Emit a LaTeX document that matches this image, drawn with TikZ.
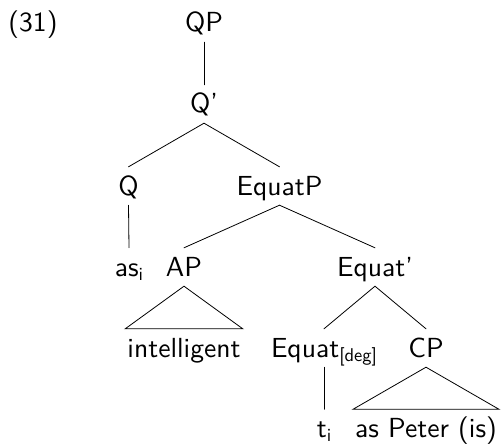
\documentclass[tikz,border=0pt]{standalone}
\usepackage{fontspec}
\usetikzlibrary{calc}
\newfontfamily\lmsx{lmsans10-regular.otf}[Ligatures=TeX]
\newcommand\sbx[1]{\raisebox{-4pt}{\fontsize{18.5}{20}\selectfont #1}}
\begin{document}
\begin{tikzpicture}[x=1pt,y=-1pt,
  lbl/.style={anchor=base, font=\lmsx\fontsize{27.6}{33}\selectfont,
              text height=19pt, text depth=1pt, inner ysep=9pt, inner xsep=2pt},
  edge/.style={line width=0.8pt, line cap=round}]
\useasboundingbox (0,0) rectangle (501,444);

\node[lbl] (ex)  at (33,32)   {(31)};
\node[lbl] (qp)  at (204,32)  {QP};
\node[lbl] (qb)  at (204,113) {Q'};
\node[lbl] (q)   at (128.5,195) {Q};
\node[lbl] (ep)  at (279.5,195) {EquatP};
\node[lbl] (as)  at (129,276) {as\sbx{i}};
\node[lbl] (ap)  at (184,276) {AP};
\node[lbl] (eb)  at (375,276) {Equat'};
\node[lbl] (int) at (184,357) {intelligent};
\node[lbl] (eq)  at (324,357) {Equat\sbx{[deg]}};
\node[lbl] (cp)  at (426,357) {CP};
\node[lbl] (t)   at (324,437.5) {t\sbx{i}};
\node[lbl] (ape) at (426,437.5) {as Peter (is)};

\draw[edge] (qp.south) -- (qb.north);
\draw[edge] (qb.south) -- (q.north);
\draw[edge] (qb.south) -- (ep.north);
\draw[edge] (q.south) -- (as.north);
\draw[edge] (ep.south) -- (ap.north);
\draw[edge] (ep.south) -- (eb.north);
\draw[edge] (ap.south) -- (int.north west) -- (int.north east) -- cycle;
\draw[edge] (eb.south) -- (eq.north);
\draw[edge] (eb.south) -- (cp.north);
\draw[edge] (eq.south) -- (t.north);
\draw[edge] (cp.south) -- (ape.north west) -- (ape.north east) -- cycle;
\end{tikzpicture}
\end{document}
